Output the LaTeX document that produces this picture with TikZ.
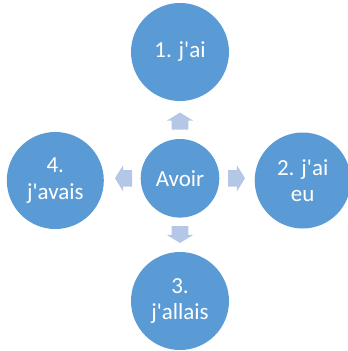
\documentclass[tikz,border=0pt]{standalone}
\usepackage{fontspec}
\setmainfont{Carlito}
\usetikzlibrary{calc}
\definecolor{circ}{HTML}{5B9BD5}
\definecolor{arr}{HTML}{B4C7E7}
\newcommand{\ap}{\textquotesingle}
\begin{document}
\begin{tikzpicture}[x=1pt,y=-1pt,
  bubble/.style={circle,fill=circ,text=white,inner sep=0pt,align=center,
    font=\fontsize{23}{26.5}\selectfont},
  blockarrow/.pic={\fill[arr] (0,-8.3) -- (8.8,-8.3) -- (8.8,-13.3) -- (17,0) -- (8.8,13.3) -- (8.8,8.3) -- (0,8.3) -- cycle;}]
\useasboundingbox (0,0) rectangle (348,351);
\clip (0,0) rectangle (348,351);
\node[bubble,minimum size=78.6pt] (c) at (180,178.3) {Avoir};
\node[bubble,minimum size=98pt] (t) at (180,52) {1. j\ap ai};
\node[bubble,minimum size=96pt] (r) at (302.7,180.5) {2. j\ap ai\\eu};
\node[bubble,minimum size=98pt] (b) at (180,301) {3.\\j\ap allais};
\node[bubble,minimum size=97pt] (l) at (55.3,180.5) {4.\\j\ap avais};
\pic[rotate=90] at ($(c)+(0,-48.8)$) {blockarrow};
\pic[rotate=-90] at ($(c)+(0,47.7)$) {blockarrow};
\pic at ($(c)+(48,0)$) {blockarrow};
\pic[rotate=180] at ($(c)+(-48,0)$) {blockarrow};
\end{tikzpicture}
\end{document}
